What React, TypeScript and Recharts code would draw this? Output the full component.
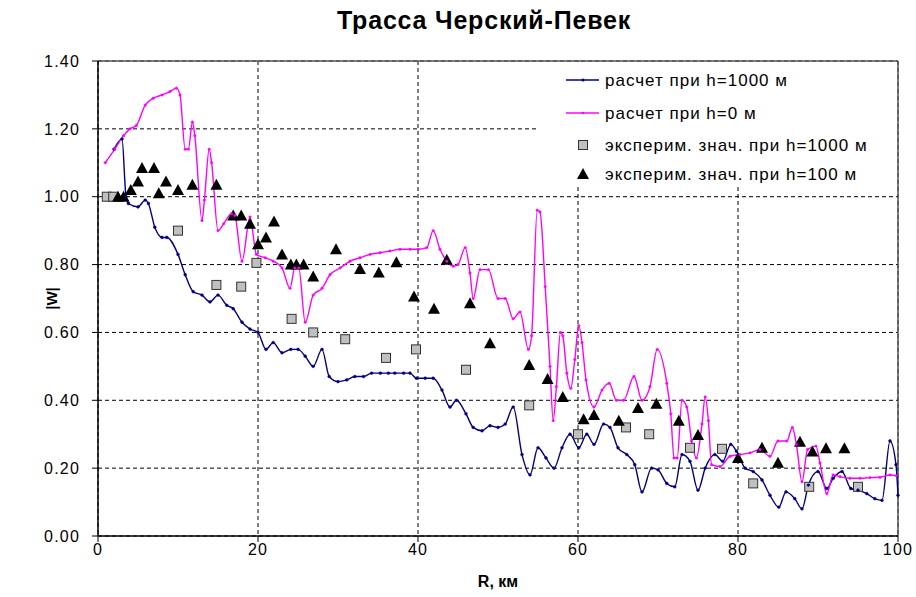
import {
  ComposedChart,
  Line,
  Scatter,
  XAxis,
  YAxis,
  CartesianGrid,
  ReferenceLine,
  Legend,
} from "recharts";

// [R, km ; |W|]
const calc1000: [number, number][] = [
  [2.0, 1.14], [3.0, 1.17], [3.5, 1.0], [3.8, 0.98], [5.0, 0.97], [5.9, 0.99], [6.3, 0.98],
  [7.1, 0.91], [8.0, 0.88], [8.6, 0.88], [10.0, 0.83], [10.9, 0.77], [11.9, 0.72], [13.0, 0.71],
  [14.0, 0.69], [15.0, 0.71], [16.1, 0.68], [16.9, 0.67], [18.0, 0.63], [19.0, 0.61], [20.0, 0.6],
  [21.0, 0.55], [21.9, 0.57], [23.0, 0.54], [24.1, 0.55], [25.0, 0.55], [25.9, 0.53], [26.9, 0.5],
  [28.0, 0.55], [28.9, 0.47], [30.0, 0.455], [31.1, 0.46], [32.1, 0.47], [33.2, 0.47], [34.2, 0.48],
  [35.3, 0.48], [36.3, 0.48], [37.1, 0.48], [38.2, 0.48], [39.0, 0.48], [39.8, 0.465], [40.9, 0.465],
  [41.9, 0.465], [43.0, 0.43], [44.0, 0.38], [44.8, 0.4], [46.0, 0.36], [46.9, 0.32], [48.0, 0.31],
  [49.0, 0.325], [50.0, 0.32], [50.9, 0.33], [51.9, 0.38], [53.0, 0.24], [54.0, 0.18], [55.0, 0.26],
  [56.0, 0.23], [57.0, 0.2], [58.0, 0.26], [59.0, 0.3], [60.1, 0.26], [61.1, 0.3], [62.0, 0.27],
  [63.2, 0.33], [64.0, 0.32], [65.0, 0.26], [66.1, 0.24], [67.1, 0.21], [68.0, 0.13], [69.2, 0.2],
  [70.0, 0.195], [71.1, 0.155], [72.1, 0.145], [73.0, 0.24], [74.0, 0.22], [75.0, 0.135], [75.9, 0.2],
  [77.1, 0.24], [78.1, 0.22], [79.1, 0.27], [79.8, 0.25], [80.9, 0.2], [81.9, 0.19], [83.0, 0.165],
  [84.0, 0.12], [85.1, 0.085], [86.0, 0.13], [87.1, 0.11], [88.0, 0.08], [88.8, 0.15], [90.0, 0.19],
  [91.1, 0.14], [91.9, 0.17], [93.0, 0.19], [94.1, 0.14], [95.0, 0.135], [96.1, 0.125], [97.1, 0.11],
  [98.0, 0.105], [99.0, 0.28], [99.75, 0.21], [100, 0.12],
];

const calc0: [number, number][] = [
  [0.9, 1.1], [2.1, 1.14], [3.2, 1.18], [4.0, 1.2], [4.8, 1.21], [5.9, 1.27], [6.9, 1.29], [8.0, 1.3],
  [9.0, 1.31], [9.8, 1.32], [10.25, 1.3], [10.9, 1.14], [11.3, 1.14], [11.8, 1.22], [12.1, 1.18],
  [13.0, 0.93], [13.3, 0.99], [13.9, 1.14], [14.2, 1.1], [15.0, 0.9], [15.7, 0.92], [16.7, 0.95],
  [17.1, 0.945], [18.0, 0.81], [19.0, 0.94], [19.8, 0.83], [20.9, 0.82], [21.9, 0.81], [23.0, 0.79],
  [24.0, 0.73], [24.6, 0.79], [25.1, 0.79], [25.9, 0.63], [26.9, 0.71], [28.0, 0.73], [29.0, 0.77],
  [30.25, 0.79], [31.5, 0.81], [32.75, 0.82], [34.0, 0.83], [35.25, 0.835], [36.5, 0.84], [37.75, 0.845],
  [39.0, 0.845], [40.0, 0.845], [41.1, 0.85], [41.9, 0.9], [42.75, 0.845], [43.6, 0.81], [44.4, 0.795],
  [45.0, 0.8], [45.9, 0.85], [46.5, 0.775], [46.9, 0.7], [47.75, 0.785], [48.8, 0.785], [50.0, 0.7],
  [50.9, 0.7], [51.9, 0.64], [52.75, 0.66], [53.8, 0.55], [54.2, 0.59], [54.9, 0.96], [55.25, 0.955],
  [55.9, 0.735], [56.5, 0.5], [56.9, 0.34], [57.3, 0.44], [57.8, 0.6], [58.1, 0.59], [58.6, 0.48],
  [59.1, 0.435], [59.6, 0.52], [60.1, 0.62], [60.5, 0.57], [61.0, 0.46], [62.0, 0.38], [63.0, 0.43],
  [63.9, 0.45], [64.8, 0.4], [65.7, 0.4], [67.0, 0.47], [68.0, 0.4], [69.0, 0.44], [69.9, 0.55],
  [71.1, 0.45], [71.6, 0.36], [72.0, 0.23], [72.4, 0.23], [73.0, 0.4], [73.6, 0.38], [74.2, 0.28],
  [74.8, 0.23], [75.5, 0.33], [75.9, 0.41], [76.3, 0.34], [76.7, 0.21], [77.75, 0.205], [79.0, 0.235],
  [80.25, 0.24], [81.5, 0.245], [82.75, 0.255], [84.0, 0.235], [85.0, 0.28], [86.1, 0.28], [86.8, 0.32],
  [87.3, 0.27], [88.0, 0.16], [88.7, 0.255], [89.75, 0.265], [90.25, 0.215], [91.1, 0.125], [91.9, 0.18],
  [92.75, 0.175], [94.0, 0.17], [95.25, 0.17], [96.5, 0.172], [97.75, 0.173], [99.0, 0.18], [99.8, 0.178],
];

const exp1000: [number, number][] = [
  [1.1, 1.0], [1.9, 1.0], [10.0, 0.9], [14.8, 0.74], [17.9, 0.735], [19.8, 0.805], [24.2, 0.64],
  [26.9, 0.6], [30.9, 0.58], [36.0, 0.525], [39.75, 0.55], [46.0, 0.49], [53.9, 0.385], [60.0, 0.3],
  [66.0, 0.32], [68.9, 0.3], [74.0, 0.26], [78.0, 0.257], [81.9, 0.155], [88.9, 0.145], [95.0, 0.145],
];

const exp100: [number, number][] = [
  [2.5, 1.0], [3.2, 1.0], [4.1, 1.02], [5.0, 1.045], [5.5, 1.085], [7.0, 1.085], [7.6, 1.01],
  [8.5, 1.045], [10.0, 1.02], [11.8, 1.035], [14.8, 1.035], [16.9, 0.945], [17.9, 0.945], [19.0, 0.92],
  [20.0, 0.86], [21.0, 0.88], [22.0, 0.927], [23.0, 0.83], [24.1, 0.8], [24.8, 0.8], [25.7, 0.8],
  [26.9, 0.765], [29.75, 0.845], [32.75, 0.787], [35.1, 0.777], [37.3, 0.807], [39.5, 0.706],
  [42.0, 0.67], [43.6, 0.814], [46.5, 0.686], [49.0, 0.568], [53.9, 0.504], [56.2, 0.463], [58.1, 0.41],
  [60.7, 0.344], [62.0, 0.357], [65.1, 0.34], [67.5, 0.377], [69.8, 0.39], [72.6, 0.34], [75.0, 0.298],
  [80.0, 0.23], [83.0, 0.26], [85.0, 0.216], [87.75, 0.278], [89.3, 0.249], [91.0, 0.259], [93.3, 0.259],
];

const xTicks = [0, 20, 40, 60, 80, 100];
const yTicks = [0, 0.2, 0.4, 0.6, 0.8, 1.0, 1.2, 1.4];

const legendLabels = [
  "расчет при h=1000 м",
  "расчет при h=0 м",
  "эксперим. знач. при h=1000 м",
  "эксперим. знач. при h=100 м",
];

const FONT = "Arial, 'Liberation Sans', sans-serif";
const NAVY = "#000080";
const PINK = "#FF00FF";

const toPoints = (arr: [number, number][]) => arr.map(([x, y]) => ({ x, y }));

const Square = (props: any) => {
  const { cx, cy } = props;
  if (cx == null || cy == null) return null;
  return <rect x={cx - 4.5} y={cy - 4.5} width={9} height={9} fill="#C0C0C0" stroke="#333" strokeWidth={1} />;
};

const Triangle = (props: any) => {
  const { cx, cy } = props;
  if (cx == null || cy == null) return null;
  return <polygon points={`${cx},${cy - 6} ${cx - 6},${cy + 5} ${cx + 6},${cy + 5}`} fill="#000" />;
};

function renderLegend() {
  const rows = [18, 51, 83, 112];
  return (
    <svg width={359} height={125} style={{ display: "block", background: "#fff" }}>
      <rect x={0} y={0} width={359} height={125} fill="#fff" />
      <line x1={28} x2={61} y1={rows[0]} y2={rows[0]} stroke={NAVY} strokeWidth={1.5} />
      <circle cx={45} cy={rows[0]} r={1.6} fill={NAVY} />
      <line x1={28} x2={61} y1={rows[1]} y2={rows[1]} stroke={PINK} strokeWidth={1.5} />
      <circle cx={45} cy={rows[1]} r={1.3} fill={PINK} />
      <Square cx={45} cy={rows[2]} />
      <Triangle cx={45} cy={rows[3]} />
      {legendLabels.map((t, i) => (
        <text
          key={t}
          x={67}
          y={rows[i]}
          dy="0.35em"
          fontFamily={FONT}
          fontSize={17}
          letterSpacing={1}
          fill="#000"
        >
          {t}
        </text>
      ))}
    </svg>
  );
}

const tickStyle = { fill: "#000", fontSize: 16, fontFamily: FONT, letterSpacing: 1.2 };

export default function App() {
  return (
    <div style={{ position: "absolute", left: 0, top: 0, width: 916, height: 597, background: "#fff" }}>
      <div
        style={{
          position: "absolute",
          left: 0,
          top: 6,
          width: 968,
          textAlign: "center",
          fontFamily: FONT,
          fontWeight: "bold",
          fontSize: 25,
          letterSpacing: 0.8,
        }}
      >
        Трасса Черский-Певек
      </div>
      <ComposedChart width={916} height={597} margin={{ top: 61, right: 18, bottom: 0, left: 6 }}>
        <CartesianGrid stroke="#000" strokeDasharray="4 3" />
        <XAxis
          dataKey="x"
          type="number"
          domain={[0, 100]}
          ticks={xTicks}
          height={61}
          tickSize={6}
          tickMargin={2}
          stroke="#000"
          axisLine={{ stroke: "#000", strokeWidth: 1.5 }}
          tick={tickStyle}
          label={{
            value: "R, км",
            position: "insideBottom",
            offset: 10,
            style: { fontFamily: FONT, fontWeight: "bold", fontSize: 16, fill: "#000" },
          }}
        />
        <YAxis
          dataKey="y"
          type="number"
          domain={[0, 1.4]}
          ticks={yTicks}
          width={92}
          tickSize={6}
          tickMargin={12}
          stroke="#000"
          axisLine={{ stroke: "#000", strokeWidth: 1.5 }}
          tick={tickStyle}
          tickFormatter={(v: number) => v.toFixed(2)}
          label={{
            value: "|W|",
            angle: -90,
            position: "center",
            style: { fontFamily: FONT, fontWeight: "bold", fontSize: 15, fill: "#000" },
          }}
        />
        <ReferenceLine y={1.4} stroke="#555" strokeWidth={1.5} />
        <ReferenceLine x={100} stroke="#555" strokeWidth={1.5} />
        <Line
          data={toPoints(calc1000)}
          dataKey="y"
          type="monotone"
          stroke={NAVY}
          strokeWidth={1.4}
          dot={{ r: 1.4, fill: NAVY, stroke: NAVY, strokeWidth: 0.5 }}
          isAnimationActive={false}
        />
        <Line
          data={toPoints(calc0)}
          dataKey="y"
          type="monotone"
          stroke={PINK}
          strokeWidth={1.4}
          dot={{ r: 1.2, fill: PINK, stroke: PINK, strokeWidth: 0.5 }}
          isAnimationActive={false}
        />
        <Scatter data={toPoints(exp1000)} dataKey="y" shape={Square} isAnimationActive={false} />
        <Scatter data={toPoints(exp100)} dataKey="y" shape={Triangle} isAnimationActive={false} />
        <Legend
          layout="vertical"
          align="center"
          verticalAlign="middle"
          content={renderLegend}
          wrapperStyle={{ left: 538, top: 62, width: 359, height: 125 }}
        />
      </ComposedChart>
    </div>
  );
}
